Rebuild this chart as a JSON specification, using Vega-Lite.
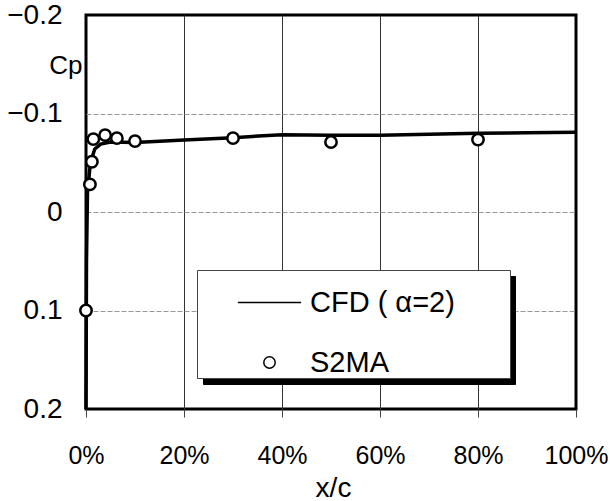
{
  "$schema": "https://vega.github.io/schema/vega-lite/v6.json",
  "width": 490,
  "height": 394,
  "autosize": {"type": "none"},
  "padding": {"left": 86, "top": 15, "right": 34, "bottom": 92},
  "background": "white",
  "config": {"view": {"stroke": "black", "strokeWidth": 3}, "font": "Liberation Sans"},
  "data": {"values": [
    {"series": "CFD ( α=2)", "x": 0, "cp": 0.2},
    {"series": "CFD ( α=2)", "x": 0.1, "cp": 0.05},
    {"series": "CFD ( α=2)", "x": 0.3, "cp": -0.02},
    {"series": "CFD ( α=2)", "x": 0.8, "cp": -0.045},
    {"series": "CFD ( α=2)", "x": 1.2, "cp": -0.055},
    {"series": "CFD ( α=2)", "x": 1.8, "cp": -0.064},
    {"series": "CFD ( α=2)", "x": 3, "cp": -0.069},
    {"series": "CFD ( α=2)", "x": 5, "cp": -0.071},
    {"series": "CFD ( α=2)", "x": 10, "cp": -0.0705},
    {"series": "CFD ( α=2)", "x": 20, "cp": -0.073},
    {"series": "CFD ( α=2)", "x": 30, "cp": -0.0755},
    {"series": "CFD ( α=2)", "x": 40, "cp": -0.0785},
    {"series": "CFD ( α=2)", "x": 50, "cp": -0.078},
    {"series": "CFD ( α=2)", "x": 60, "cp": -0.078},
    {"series": "CFD ( α=2)", "x": 70, "cp": -0.079},
    {"series": "CFD ( α=2)", "x": 80, "cp": -0.08},
    {"series": "CFD ( α=2)", "x": 90, "cp": -0.0805},
    {"series": "CFD ( α=2)", "x": 100, "cp": -0.081},
    {"series": "S2MA", "x": 0, "cp": 0.1},
    {"series": "S2MA", "x": 0.8, "cp": -0.028},
    {"series": "S2MA", "x": 1.2, "cp": -0.051},
    {"series": "S2MA", "x": 1.5, "cp": -0.074},
    {"series": "S2MA", "x": 3.9, "cp": -0.078},
    {"series": "S2MA", "x": 6.3, "cp": -0.075},
    {"series": "S2MA", "x": 10, "cp": -0.072},
    {"series": "S2MA", "x": 30, "cp": -0.075},
    {"series": "S2MA", "x": 50, "cp": -0.071},
    {"series": "S2MA", "x": 80, "cp": -0.0735}
  ]},
  "encoding": {
    "x": {
      "field": "x", "type": "quantitative",
      "scale": {"domain": [0, 100], "nice": false, "zero": false},
      "axis": {
        "values": [0, 20, 40, 60, 80, 100],
        "labelExpr": "datum.value + '%'",
        "labelFont": "Liberation Sans",
        "labelFontSize": 25,
        "labelColor": "black",
        "labelBaseline": "alphabetic",
        "labelPadding": 46,
        "labelFlush": false,
        "labelOverlap": false,
        "tickSize": 8,
        "tickColor": "#444",
        "domain": false,
        "grid": true,
        "gridColor": "#333",
        "gridWidth": 1,
        "gridOpacity": {"condition": {"test": "datum.value == 0 || datum.value == 100", "value": 0}, "value": 1},
        "title": "x/c",
        "titleFont": "Liberation Sans",
        "titleFontSize": 28,
        "titleFontWeight": "normal",
        "titleColor": "black",
        "titleX": 247,
        "titleY": 87,
        "titleAlign": "center",
        "titleBaseline": "alphabetic"
      }
    },
    "y": {
      "field": "cp", "type": "quantitative",
      "scale": {"domain": [-0.2, 0.2], "reverse": true, "nice": false, "zero": false},
      "axis": {
        "values": [-0.2, -0.1, 0, 0.1, 0.2],
        "labelExpr": "datum.value < 0 ? '−' + format(-datum.value, '.1f') : (datum.value == 0 ? '0' : format(datum.value, '.1f'))",
        "labelFont": "Liberation Sans",
        "labelFontSize": 28,
        "labelColor": "black",
        "labelPadding": 24,
        "labelFlush": false,
        "labelOverlap": false,
        "ticks": false,
        "domain": false,
        "grid": true,
        "gridColor": "#999",
        "gridWidth": 1,
        "gridDash": [5, 2],
        "gridOpacity": {"condition": {"test": "abs(datum.value) > 0.15", "value": 0}, "value": 1},
        "title": "Cp",
        "titleFont": "Liberation Sans",
        "titleFontSize": 26,
        "titleFontWeight": "normal",
        "titleColor": "black",
        "titleAngle": 0,
        "titleAlign": "right",
        "titleBaseline": "alphabetic",
        "titleX": -4,
        "titleY": 58
      }
    }
  },
  "layer": [
    {
      "transform": [{"filter": "datum.series !== 'S2MA'"}],
      "mark": {"type": "line", "color": "black", "strokeWidth": 3.5}
    },
    {
      "transform": [{"filter": "datum.series === 'S2MA'"}],
      "mark": {"type": "point", "filled": true, "fill": "white", "stroke": "black", "strokeWidth": 2.5, "opacity": 1},
      "encoding": {
        "shape": {
          "field": "series", "type": "nominal",
          "scale": {"domain": ["CFD ( α=2)", "S2MA"], "range": ["stroke", "circle"]},
          "legend": {
            "title": null,
            "orient": "none",
            "legendX": 111,
            "legendY": 255,
            "padding": 0,
            "fillColor": "white",
            "strokeColor": "#444",
            "cornerRadius": 0,
            "symbolOffset": 40,
            "labelOffset": 8,
            "rowPadding": 30,
            "labelFont": "Liberation Sans",
            "labelFontSize": 29,
            "labelColor": "black",
            "labelLimit": 400,
            "labelExpr": "datum.label + '\u00a0\u00a0\u00a0\u00a0\u00a0\u00a0\u2009\u200b'",
            "zindex": 2,
            "encode": {
              "symbols": {
                "update": {
                  "fill": {"value": "white"},
                  "stroke": {"value": "black"},
                  "strokeWidth": {"value": 3},
                  "opacity": {"value": 1}
                }
              }
            }
          }
        },
        "size": {
          "field": "series", "type": "nominal",
          "scale": {"domain": ["CFD ( α=2)", "S2MA"], "range": [4000, 130]},
          "legend": {
            "title": null,
            "orient": "none",
            "legendX": 111,
            "legendY": 255,
            "padding": 0,
            "fillColor": "white",
            "strokeColor": "#444",
            "cornerRadius": 0,
            "symbolOffset": 40,
            "labelOffset": 8,
            "rowPadding": 30,
            "labelFont": "Liberation Sans",
            "labelFontSize": 29,
            "labelColor": "black",
            "labelLimit": 400,
            "labelExpr": "datum.label + '\u00a0\u00a0\u00a0\u00a0\u00a0\u00a0\u2009\u200b'",
            "zindex": 2,
            "encode": {
              "symbols": {
                "update": {
                  "fill": {"value": "white"},
                  "stroke": {"value": "black"},
                  "strokeWidth": {"value": 3},
                  "opacity": {"value": 1}
                }
              }
            }
          }
        }
      }
    },
    {
      "mark": {"type": "point", "filled": true, "opacity": 0, "size": 1444, "strokeWidth": 2.5},
      "encoding": {
        "color": {
          "field": "series", "type": "nominal",
          "scale": {"range": ["black", "black"]},
          "legend": {
            "title": null,
            "orient": "none",
            "legendX": 117,
            "legendY": 261,
            "padding": 0,
            "fillColor": "black",
            "strokeColor": "black",
            "cornerRadius": 0,
            "symbolSize": 1444,
            "symbolOffset": 64,
            "labelOffset": 8,
            "rowPadding": 30,
            "labelFont": "Liberation Sans",
            "labelFontSize": 29,
            "labelColor": "black",
            "labelLimit": 400,
            "labelExpr": "datum.label + '\u00a0\u00a0\u00a0\u00a0\u00a0\u00a0\u2009\u200b'",
            "zindex": 1,
            "encode": {
              "symbols": {
                "update": {
                  "size": {"value": 1444},
                  "opacity": {"value": 0}
                }
              }
            }
          }
        }
      }
    }
  ]
}
